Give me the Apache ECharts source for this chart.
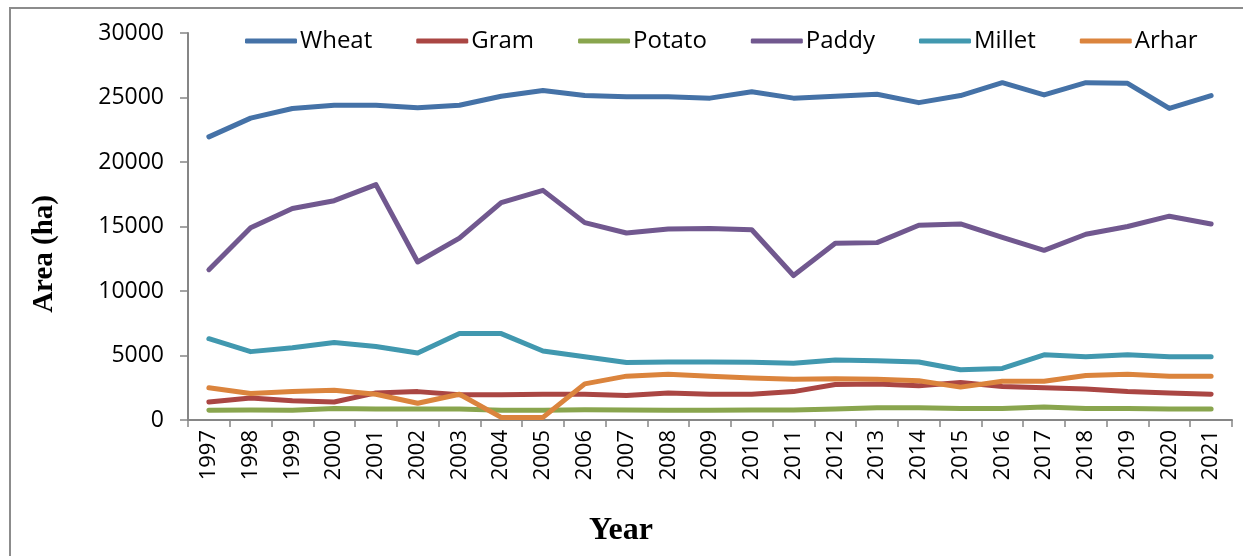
<!DOCTYPE html>
<html><head><meta charset="utf-8">
<script src="https://cdn.jsdelivr.net/npm/echarts@6/dist/echarts.min.js"></script>
<style>html,body{margin:0;padding:0;background:#fff}#c{width:1243px;height:556px}</style>
</head><body><div id="c"></div>
<script>
const years = ['1997','1998','1999','2000','2001','2002','2003','2004','2005','2006','2007','2008','2009','2010','2011','2012','2013','2014','2015','2016','2017','2018','2019','2020','2021'];
const wheat  = [21950,23400,24150,24400,24400,24200,24400,25100,25550,25150,25050,25050,24950,25450,24950,25100,25250,24600,25150,26150,25200,26150,26100,24150,25150];
const gram   = [1400,1700,1500,1400,2100,2200,1950,1950,2000,2000,1900,2100,2000,2000,2200,2750,2800,2650,2900,2600,2500,2400,2200,2100,2000];
const potato = [750,780,750,900,850,850,850,750,750,800,780,750,750,780,780,850,950,950,900,900,1000,900,900,850,850];
const paddy  = [11650,14900,16400,17000,18250,12250,14100,16850,17800,15300,14500,14800,14850,14750,11200,13700,13750,15100,15200,14150,13150,14400,15000,15800,15200];
const millet = [6300,5300,5600,6000,5700,5200,6700,6700,5350,4900,4450,4500,4500,4480,4400,4650,4600,4500,3900,4000,5050,4900,5050,4900,4900];
const arhar  = [2500,2050,2200,2300,2000,1300,2000,200,200,2800,3400,3550,3400,3250,3150,3200,3150,3050,2550,3000,3000,3450,3550,3400,3400];
const yTicks = [0,5000,10000,15000,20000,25000,30000];

const seriesDefs = [
  ['Wheat', wheat, '#4572A7'],
  ['Gram', gram, '#AA4643'],
  ['Potato', potato, '#89A54E'],
  ['Paddy', paddy, '#71588F'],
  ['Millet', millet, '#4198AF'],
  ['Arhar', arhar, '#DB843D']
];
const chart = echarts.init(document.getElementById('c'), null, {renderer:'canvas'});
const axisCol = '#868686';
chart.setOption({
  animation:false,
  grid:{left:188, right:11, top:33, bottom:136, containLabel:false},
  legend:{
    top:24, left:240, itemWidth:52, itemHeight:5, itemGap:44,
    icon:'roundRect',
    textStyle:{fontFamily:'Open Sans', fontSize:24, color:'#000', padding:[0,0,0,-2]},
    data: seriesDefs.map(d=>({name:d[0]}))
  },
  xAxis:{
    type:'category', data:years, boundaryGap:true,
    axisLine:{lineStyle:{color:axisCol, width:2}},
    axisTick:{show:true, interval:0, length:7, lineStyle:{color:axisCol, width:1.5}},
    axisLabel:{interval:0, rotate:90, margin:10, fontFamily:'Open Sans', fontSize:22, color:'#000'}
  },
  yAxis:{
    type:'value', min:0, max:30000, interval:5000,
    axisLine:{show:true, lineStyle:{color:axisCol, width:2}},
    axisTick:{show:true, length:8, lineStyle:{color:axisCol, width:1.5}},
    splitLine:{show:false},
    axisLabel:{margin:24, fontFamily:'Open Sans', fontSize:23, color:'#000',
      formatter:v=> yTicks.indexOf(v)>=0 ? String(v) : ''}
  },
  graphic:[
    {type:'rect', shape:{x:10, y:8, width:1260, height:600}, style:{fill:'none', stroke:'#8c8c8c', lineWidth:2}, silent:true, z:-1},
    {type:'text', left:30, top:195, rotation:Math.PI/2, style:{text:'Area (ha)', font:'bold 29px "Liberation Serif"', fill:'#000'}, silent:true},
    {type:'text', left:589, top:515, style:{text:'Year', font:'bold 32px "Liberation Serif"', fill:'#000'}, silent:true}
  ],
  series: seriesDefs.map(d=>({
    name:d[0], type:'line', data:d[1], symbol:'none', smooth:false,
    lineStyle:{color:d[2], width:5, cap:'round', join:'round'},
    itemStyle:{color:d[2]}
  }))
});
</script></body></html>
